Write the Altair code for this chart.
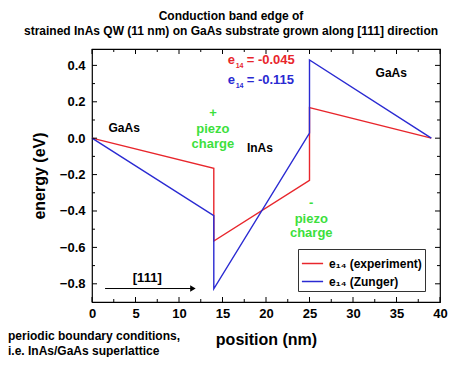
import altair as alt
import pandas as pd

# ---- data ----
exp_x = [0, 14, 14, 25, 25, 39]
exp_y = [0.0, -0.165, -0.565, -0.232, 0.168, 0.0]
zun_x = [0, 14, 14, 25, 25, 39]
zun_y = [0.0, -0.426, -0.828, 0.028, 0.43, 0.0]
series_names = ["e\u2081\u2084 (experiment)", "e\u2081\u2084 (Zunger)"]
series_colors = ["#e8262c", "#2a2ad2"]

x_major = [0, 5, 10, 15, 20, 25, 30, 35, 40]
x_minor = [2.5, 7.5, 12.5, 17.5, 22.5, 27.5, 32.5, 37.5]
y_major = [-0.8, -0.6, -0.4, -0.2, 0.0, 0.2, 0.4]
y_minor = [-0.7, -0.5, -0.3, -0.1, 0.1, 0.3]

region_labels = ["GaAs", "InAs", "GaAs"]
region_x = [3.7, 19.3, 34.4]
region_y = [0.055, -0.054, 0.356]

piezo_text = ["+", "piezo", "charge", "-", "piezo", "charge"]
piezo_x = [13.9, 13.9, 13.9, 25.2, 25.2, 25.2]
piezo_y = [0.14, 0.048, -0.034, -0.358, -0.446, -0.523]

e14_values = ["= -0.045", "= -0.115"]
e14_x = [15.6, 15.6]
e14_y = [0.428, 0.318]

arrow_x = [1.5, 11.6]
arrow_y = [-0.826, -0.826]
arrow_label = "[111]"
arrow_label_x = 6.35
arrow_label_y = -0.77

foot_lines = ["periodic boundary conditions,", "i.e. InAs/GaAs superlattice"]

FONT = "Liberation Sans"
W, H = 348, 253

rows = []
for name, xs, ys in [(series_names[0], exp_x, exp_y), (series_names[1], zun_x, zun_y)]:
    for i, (a, b) in enumerate(zip(xs, ys)):
        rows.append({"pos": a, "energy": b, "series": name, "i": i})
df = pd.DataFrame(rows)

xscale = alt.Scale(domain=[0, 40], nice=False, zero=False)
yscale = alt.Scale(domain=[-0.9, 0.49], nice=False, zero=False)
xaxis = alt.Axis(values=x_major, ticks=False, domain=False, grid=False, labelFont=FONT,
                 labelFontWeight="bold", labelFontSize=13, labelColor="black", labelPadding=5,
                 title="position (nm)", titleFont=FONT, titleFontSize=16, titleFontWeight="bold",
                 titleColor="black", titleX=W / 2, titleY=37, titleBaseline="middle",
                 labelFlush=False)
yaxis = alt.Axis(values=y_major, ticks=False, domain=False, grid=False, labelFont=FONT,
                 labelFontWeight="bold", labelFontSize=13, labelColor="black", labelPadding=7,
                 format=".1f", title="energy (eV)", titleFont=FONT, titleFontSize=16,
                 titleFontWeight="bold", titleColor="black", titleX=-53, titleY=H / 2,
                 titleAngle=-90, titleBaseline="middle", titleAlign="center", labelFlush=False)


def X(field):
    return alt.X(field, type="quantitative", scale=xscale, axis=xaxis)


def Y(field):
    return alt.Y(field, type="quantitative", scale=yscale, axis=yaxis)


lines = alt.Chart(df).mark_line(strokeWidth=1.4).encode(
    x=X("pos"), y=Y("energy"),
    color=alt.Color("series:N", scale=alt.Scale(domain=series_names, range=series_colors),
                    legend=alt.Legend(title=None, orient="none", legendX=206, legendY=200,
                                      strokeColor="#333", fillColor="white", padding=3,
                                      labelFont=FONT, labelFontSize=12, labelFontWeight="bold",
                                      labelColor="black", symbolType="stroke",
                                      symbolStrokeWidth=1.5, symbolSize=450, rowPadding=0,
                                      labelOffset=5)),
    order=alt.Order("i:Q"),
)


# inward ticks
def vticks(vals, length, top):
    d = pd.DataFrame({"v": vals})
    if top:
        return alt.Chart(d).mark_rule(color="black", strokeWidth=1).encode(
            x=X("v"), y=alt.value(0), y2=alt.value(length))
    return alt.Chart(d).mark_rule(color="black", strokeWidth=1).encode(
        x=X("v"), y=alt.value(H), y2=alt.value(H - length))


def hticks(vals, length, right):
    d = pd.DataFrame({"v": vals})
    if right:
        return alt.Chart(d).mark_rule(color="black", strokeWidth=1).encode(
            y=Y("v"), x=alt.value(W), x2=alt.value(W - length))
    return alt.Chart(d).mark_rule(color="black", strokeWidth=1).encode(
        y=Y("v"), x=alt.value(0), x2=alt.value(length))


ticks = [vticks(x_major, 5, False), vticks(x_minor, 3, False), vticks(x_major, 5, True),
         vticks(x_minor, 3, True), hticks(y_major, 5, False), hticks(y_minor, 3, False),
         hticks(y_major, 5, True), hticks(y_minor, 3, True)]

regions = alt.Chart(pd.DataFrame({"t": region_labels, "x": region_x, "y": region_y})).mark_text(
    font=FONT, fontSize=12, fontWeight="bold", color="black", baseline="middle").encode(
    x=X("x"), y=Y("y"), text="t:N")

piezo = alt.Chart(pd.DataFrame({"t": piezo_text, "x": piezo_x, "y": piezo_y, "k": list(range(6))})).mark_text(
    font=FONT, fontSize=13, fontWeight="bold", color="#3ddf3d", baseline="middle").encode(
    x=X("x"), y=Y("y"), text="t:N", detail="k:N")

e14df = pd.DataFrame({"v": e14_values, "x": e14_x, "y": e14_y, "c": series_colors,
                      "e": ["e", "e"], "s": ["14", "14"]})
e_main = alt.Chart(e14df).mark_text(font=FONT, fontSize=13, fontWeight="bold", align="left",
                                    baseline="middle").encode(
    x=X("x"), y=Y("y"), text="e:N", color=alt.Color("c:N", scale=None))
e_sub = alt.Chart(e14df).mark_text(font=FONT, fontSize=7, fontWeight="bold", align="left",
                                   baseline="middle", dx=8, dy=6).encode(
    x=X("x"), y=Y("y"), text="s:N", color=alt.Color("c:N", scale=None))
e_val = alt.Chart(e14df).mark_text(font=FONT, fontSize=13, fontWeight="bold", align="left",
                                   baseline="middle", dx=19).encode(
    x=X("x"), y=Y("y"), text="v:N", color=alt.Color("c:N", scale=None))

adf = pd.DataFrame({"x": [arrow_x[0]], "x2": [arrow_x[1]], "y": [arrow_y[0]]})
arrow_line = alt.Chart(adf).mark_rule(color="black", strokeWidth=1).encode(
    x=X("x"), x2="x2:Q", y=Y("y"))
arrow_head = alt.Chart(pd.DataFrame({"x": [arrow_x[1]], "y": [arrow_y[1]]})).mark_point(
    shape="triangle-right", filled=True, color="black", size=40, opacity=1).encode(
    x=X("x"), y=Y("y"))
arrow_text = alt.Chart(pd.DataFrame({"x": [arrow_label_x], "y": [arrow_label_y], "t": [arrow_label]})).mark_text(
    font=FONT, fontSize=13, fontWeight="bold", color="black", baseline="middle").encode(
    x=X("x"), y=Y("y"), text="t:N")

foot1 = alt.Chart(pd.DataFrame({"t": [foot_lines[0]]})).mark_text(
    font=FONT, fontSize=12, fontWeight="bold", color="black", align="left", baseline="middle").encode(
    x=alt.value(-84), y=alt.value(287), text="t:N")
foot2 = alt.Chart(pd.DataFrame({"t": [foot_lines[1]]})).mark_text(
    font=FONT, fontSize=12, fontWeight="bold", color="black", align="left", baseline="middle").encode(
    x=alt.value(-84), y=alt.value(302), text="t:N")

chart = alt.layer(lines, *ticks, regions, piezo, e_main, e_sub, e_val,
                  arrow_line, arrow_head, arrow_text, foot1, foot2).properties(
    width=W, height=H,
    title=alt.TitleParams(["Conduction band edge of",
                           "strained InAs QW (11 nm) on GaAs substrate grown along [111] direction"],
                          font=FONT, fontSize=12, fontWeight="bold", color="black",
                          anchor="middle", dx=-35, offset=11, lineHeight=15),
    autosize=alt.AutoSizeParams(type="none"),
    padding={"left": 84, "top": 41, "right": 14, "bottom": 55},
).configure_view(stroke="black", strokeWidth=1.2)

chart.save("out.html", embed_options={"renderer": "svg", "actions": False})
